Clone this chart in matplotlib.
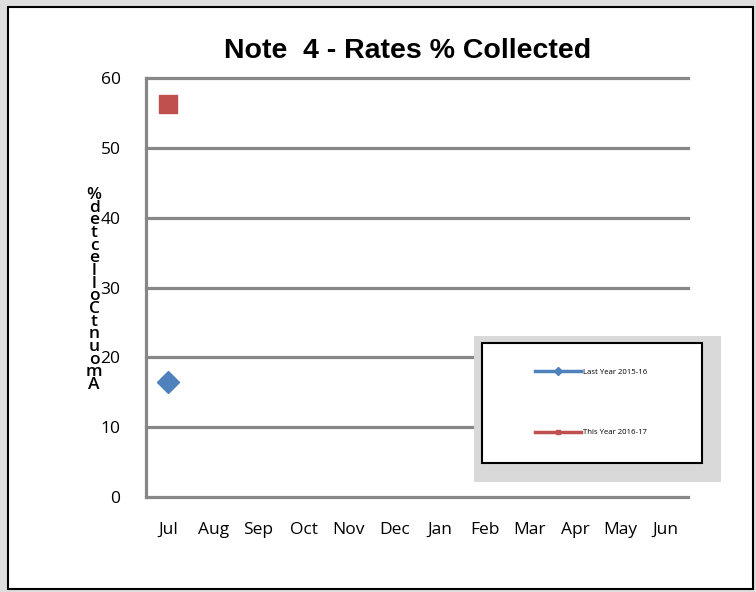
import matplotlib
matplotlib.use("Agg")
import matplotlib.pyplot as plt
from matplotlib.patches import Rectangle
from matplotlib.lines import Line2D

# ---------------------------------------------------------------------------
# Data
# ---------------------------------------------------------------------------
months = ["Jul", "Aug", "Sep", "Oct", "Nov", "Dec",
          "Jan", "Feb", "Mar", "Apr", "May", "Jun"]
last_year = [16.5]      # Last Year 2015-16 (only Jul reported)
this_year = [56.3]      # This Year 2016-17 (only Jul reported)
series_names = ["Last Year 2015-16", "This Year 2016-17"]
y_ticks = [0, 10, 20, 30, 40, 50, 60]

title = "Note  4 - Rates % Collected"
y_label = "Amount Collected %"

BLUE = "#4F81BD"
RED = "#C0504D"
GRID = "#878787"

W, H = 756, 592
plt.rcParams["font.family"] = ["Open Sans", "DejaVu Sans"]

fig = plt.figure(figsize=(W / 100, H / 100), dpi=100)
fig.patch.set_facecolor("#dedede")

# chart area frame
fig.patches.append(Rectangle((8 / W, 3 / H), 745 / W, 582 / H,
                             transform=fig.transFigure, facecolor="white",
                             edgecolor="black", linewidth=1.5, zorder=-1))

ax = fig.add_axes([145.5 / W, 95 / H, 542.5 / W, 419 / H])
ax.set_facecolor("none")

x = list(range(len(months)))
ax.plot(x[:len(last_year)], last_year, color=BLUE, marker="D",
        markersize=11, linestyle="-", linewidth=2.5, zorder=3)
ax.plot(x[:len(this_year)], this_year, color=RED, marker="s",
        markersize=13, linestyle="-", linewidth=2.5, zorder=3)

ax.set_xlim(-0.5, len(months) - 0.5)
ax.set_ylim(0, 60)
ax.set_yticks(y_ticks)
ax.set_xticks(x)
ax.set_xticklabels(months)
ax.tick_params(length=0, labelsize=12.5, pad=18)
ax.tick_params(axis="y", pad=18)

for s in ["top", "right"]:
    ax.spines[s].set_visible(False)
for s in ["left", "bottom"]:
    ax.spines[s].set_color(GRID)
    ax.spines[s].set_linewidth(2.3)
for t in y_ticks[1:]:
    ax.axhline(t, color=GRID, linewidth=2.3, zorder=1, clip_on=False)

# title and stacked axis label (letters drawn bottom-up, no gaps)
fig.text(408 / W, 1 - 51 / H, title, ha="center", va="center",
         fontsize=20.5, fontweight="bold",
         family=["Liberation Sans", "DejaVu Sans"])
fig.text(94 / W, 1 - 290 / H, "\n".join(reversed(y_label.replace(" ", ""))),
         ha="center", va="center", fontsize=12.5, linespacing=0.72,
         fontweight="semibold")

# legend: grey backdrop + bordered white box
ax.add_patch(Rectangle((474 / W, 1 - 482 / H), 247 / W, 146 / H,
                       transform=fig.transFigure, facecolor="#d9d9d9",
                       edgecolor="none", clip_on=False, zorder=4))
ax.add_patch(Rectangle((482 / W, 1 - 463 / H), 220 / W, 120 / H,
                       transform=fig.transFigure, facecolor="white",
                       edgecolor="black", linewidth=1.5, clip_on=False,
                       zorder=4.5))
handles = [Line2D([], [], color=BLUE, marker="D", markersize=4, linewidth=2.5),
           Line2D([], [], color=RED, marker="s", markersize=3, linewidth=2.5)]
leg = ax.legend(handles, series_names, loc="center",
                bbox_to_anchor=(591 / W, 1 - 402.5 / H),
                bbox_transform=fig.transFigure, frameon=False,
                fontsize=5.6, labelspacing=6.8, handlelength=5.9,
                handletextpad=0.3)
leg.set_zorder(5)

fig.savefig("out.png", dpi=100, facecolor=fig.get_facecolor())
